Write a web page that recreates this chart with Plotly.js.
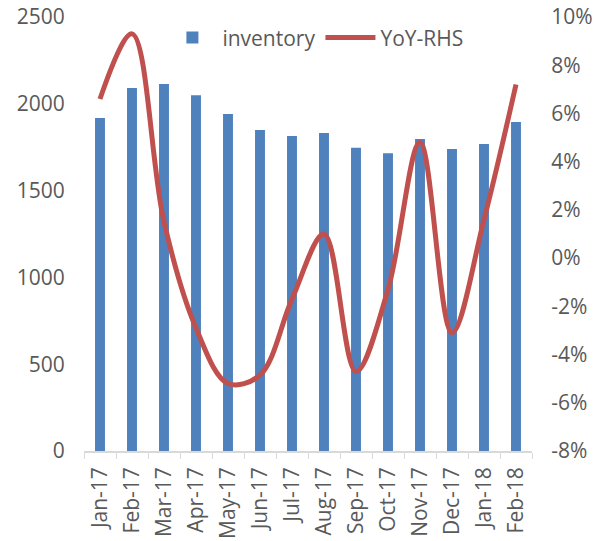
<!DOCTYPE html>
<html>
<head>
<meta charset="utf-8">
<script src="https://cdn.plot.ly/plotly-3.0.1.min.js"></script>
<style>
  html, body { margin: 0; padding: 0; background: #fff; }
  #chart { width: 597px; height: 541px; }
</style>
</head>
<body>
<div id="chart"></div>
<script>
// 월별 데이터
var months = ['Jan-17', 'Feb-17', 'Mar-17', 'Apr-17', 'May-17', 'Jun-17', 'Jul-17',
              'Aug-17', 'Sep-17', 'Oct-17', 'Nov-17', 'Dec-17', 'Jan-18', 'Feb-18'];
var inventory = [1918, 2091, 2114, 2049, 1941, 1849, 1814, 1832, 1747, 1715, 1797, 1740, 1768, 1895];
var yoy = [6.6, 9.3, 1.5, -2.9, -5.2, -4.85, -1.7, 1.0, -4.7, -1.3, 4.8, -3.1, 1.6, 7.2];

// 오른쪽 축 눈금 (하이픈 마이너스 그대로)
var y2Ticks = [-8, -6, -4, -2, 0, 2, 4, 6, 8, 10];
var y2TickText = ['-8%', '-6%', '-4%', '-2%', '0%', '2%', '4%', '6%', '8%', '10%'];

var tickFont = { family: 'Open Sans, Liberation Sans, sans-serif', size: 21, color: '#595959' };

var traces = [
    {
        x: months, y: inventory, name: 'inventory', type: 'bar',
        marker: { color: '#4F81BD' }, width: 0.31
    },
    {
        x: months, y: yoy, name: 'YoY-RHS', type: 'scatter', mode: 'lines',
        yaxis: 'y2',
        line: { color: '#C0504D', width: 5, shape: 'spline', smoothing: 1 }
    }
];

var layout = {
    width: 597,
    height: 541,
    margin: { l: 84, r: 65, t: 17, b: 90 },
    paper_bgcolor: '#fff',
    plot_bgcolor: '#fff',
    showlegend: true,
    legend: {
        orientation: 'h', x: 0.175, y: 0.952, xanchor: 'left', yanchor: 'middle',
        font: tickFont, bgcolor: 'rgba(0,0,0,0)', itemwidth: 50
    },
    xaxis: {
        type: 'category', tickangle: -90, tickfont: tickFont,
        showline: true, linecolor: '#d9d9d9', linewidth: 1.5,
        ticks: 'outside', tickson: 'boundaries', ticklen: 6, tickcolor: '#d9d9d9',
        ticklabelstandoff: 6, showgrid: false, zeroline: false
    },
    yaxis: {
        range: [0, 2500], dtick: 500, tickfont: tickFont,
        showgrid: false, zeroline: false, showline: false,
        ticks: 'outside', ticklen: 14, tickcolor: 'rgba(0,0,0,0)'
    },
    yaxis2: {
        overlaying: 'y', side: 'right', range: [-8, 10],
        tickvals: y2Ticks, ticktext: y2TickText,
        tickfont: tickFont, showgrid: false, zeroline: false, showline: false,
        ticks: 'outside', ticklen: 14, tickcolor: 'rgba(0,0,0,0)'
    }
};

var config = { displayModeBar: false };

Plotly.newPlot('chart', traces, layout, config);
</script>
</body>
</html>
